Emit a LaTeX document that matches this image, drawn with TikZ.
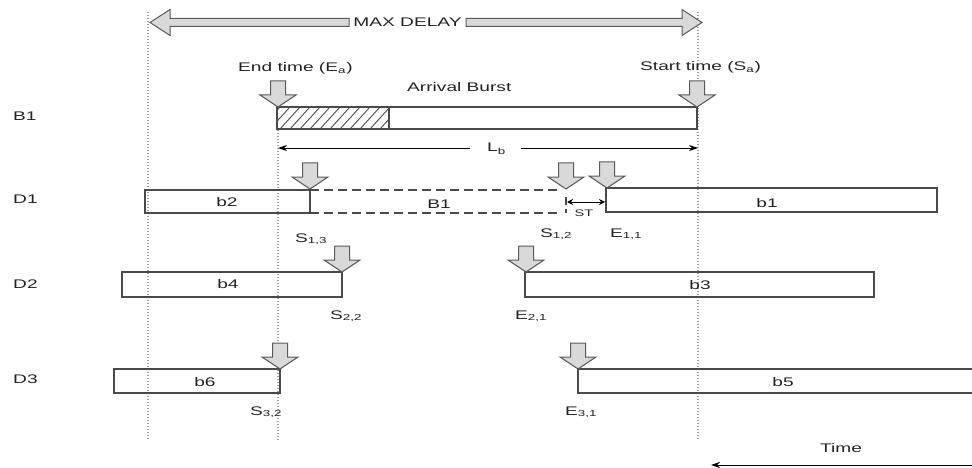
\documentclass[tikz,border=0pt]{standalone}
\usepackage{fontspec}
\setmainfont{Liberation Sans}
\usetikzlibrary{arrows.meta}
\definecolor{boxc}{HTML}{4A4A4A}
\definecolor{arrfill}{HTML}{D9D9D9}
\definecolor{arrline}{HTML}{5A5A5A}
\definecolor{dotc}{HTML}{9A9A9A}
\definecolor{txtc}{HTML}{222222}
\newcommand{\hs}[1]{\scalebox{1.53}[1]{#1}}
\tikzset{
 txt/.style={font=\fontsize{12.5}{15}\selectfont, inner sep=0pt, text=txtc},
 smalltxt/.style={font=\fontsize{9.5}{11}\selectfont, inner sep=0pt, text=txtc},
 boxline/.style={draw=boxc, line width=1.2pt},
 dashline/.style={draw=boxc, line width=1.1pt, dash pattern=on 9pt off 5pt},
 guide/.style={draw=dotc, line width=1.3pt, dash pattern=on 1.3pt off 1.7pt},
 blockarr/.style={draw=arrline, fill=arrfill, line width=1pt, line join=miter},
 darr/.pic={\path[blockarr] (-7.5,-26) -- (7.5,-26) -- (7.5,-12) -- (18,-12) -- (0,0) -- (-18,-12) -- (-7.5,-12) -- cycle;},
 conn/.style={draw=black, line width=0.9pt, -{Stealth[length=9pt,width=6pt]}},
 stconn/.style={draw=black, line width=0.9pt, {Stealth[length=6pt,width=6pt]}-{Stealth[length=6pt,width=6pt]}},
}
\begin{document}
\begin{tikzpicture}[x=1pt,y=-1pt]
\useasboundingbox (0,0) rectangle (972,468);
% dotted guide lines
\draw[guide] (148,12) -- (148,440);
\draw[guide] (278,130) -- (278,440);
\draw[guide] (698,12) -- (698,440);
% MAX DELAY double block arrow
\path[blockarr] (349,18.5) -- (170,18.5) -- (170,9.5) -- (150,22.5) -- (170,35.5) -- (170,26.5) -- (349,26.5) -- cycle;
\path[blockarr] (466,18.5) -- (682,18.5) -- (682,9.5) -- (702,22.5) -- (682,35.5) -- (682,26.5) -- (466,26.5) -- cycle;
\node[txt, anchor=base] (maxd) at (407.5,27) {\hs{MAX DELAY}};
% row labels
\node[txt, anchor=base west] (lB1) at (13,121) {\hs{B1}};
\node[txt, anchor=base west] (lD1) at (13,204) {\hs{D1}};
\node[txt, anchor=base west] (lD2) at (13,288) {\hs{D2}};
\node[txt, anchor=base west] (lD3) at (13,383) {\hs{D3}};
% B1 row
\begin{scope}
 \clip (277,107) rectangle (389,129);
 \foreach \x in {250,260,...,400} \draw[boxc, line width=0.9pt] (\x,129) -- (\x+20,107);
\end{scope}
\draw[boxline] (277,107) rectangle (697,129);
\draw[boxline] (389,107) -- (389,129);
\pic at (278,107) {darr};
\pic at (697,107) {darr};
\node[txt, anchor=base west] (endt) at (238,72) {\hs{End time (E\textsubscript{a})}};
\node[txt, anchor=base west] (startt) at (640,71) {\hs{Start time (S\textsubscript{a})}};
\node[txt, anchor=base west] (arrb) at (407,92) {\hs{Arrival Burst}};
% L_b
\node[txt, anchor=base west] (lb) at (487,152) {\hs{L\textsubscript{b}}};
\coordinate (lbL) at (278,148);
\coordinate (lbR) at (698,148);
\coordinate (lbA) at (470,148);
\coordinate (lbB) at (521,148);
\draw[conn] (lbA) -- (lbL);
\draw[conn] (lbB) -- (lbR);
% D1 row
\draw[boxline] (145,190) rectangle (310,213);
\draw[dashline] (310,190) -- (562,190);
\draw[dashline] (310,213) -- (562,213);
\draw[boxc, line width=1.1pt, dash pattern=on 8pt off 4pt] (566,197) -- (566,213);
\draw[boxline] (606,188) rectangle (937,212);
\node[txt] (tb2) at (227,202.5) {\hs{b2}};
\node[txt] (tB1d) at (439,204) {\hs{B1}};
\node[txt] (tb1) at (767,203) {\hs{b1}};
\pic at (310,189) {darr};
\pic at (566,189) {darr};
\pic at (607,188) {darr};
\coordinate (stA) at (567,202);
\coordinate (stB) at (605,202);
\draw[stconn] (stA) -- (stB);
\node[smalltxt] (st) at (584,213) {\hs{ST}};
\node[txt, anchor=base west] (s13) at (295,242) {\hs{S\textsubscript{1,3}}};
\node[txt, anchor=base west] (s12) at (540,237) {\hs{S\textsubscript{1,2}}};
\node[txt, anchor=base west] (e11) at (610,237) {\hs{E\textsubscript{1,1}}};
% D2 row
\draw[boxline] (122,272) rectangle (342,297);
\draw[boxline] (525,272) rectangle (874,297);
\node[txt] (tb4) at (228,284) {\hs{b4}};
\node[txt] (tb3) at (700,285) {\hs{b3}};
\pic at (342,272) {darr};
\pic at (526,272) {darr};
\node[txt, anchor=base west] (s22) at (330,319) {\hs{S\textsubscript{2,2}}};
\node[txt, anchor=base west] (e21) at (515,319) {\hs{E\textsubscript{2,1}}};
% D3 row
\draw[boxline] (114,369) rectangle (280,393);
\draw[boxline] (980,369) -- (578,369) -- (578,393) -- (980,393);
\node[txt] (tb6) at (205,382) {\hs{b6}};
\node[txt] (tb5) at (783,382) {\hs{b5}};
\pic at (280,369) {darr};
\pic at (578,369) {darr};
\node[txt, anchor=base west] (s32) at (250,415) {\hs{S\textsubscript{3,2}}};
\node[txt, anchor=base west] (e31) at (565,415) {\hs{E\textsubscript{3,1}}};
% Time
\node[txt, anchor=base west] (time) at (820,452) {\hs{Time}};
\coordinate (tR) at (975,465);
\coordinate (tL) at (711,465);
\draw[conn] (tR) -- (tL);
\end{tikzpicture}
\end{document}
